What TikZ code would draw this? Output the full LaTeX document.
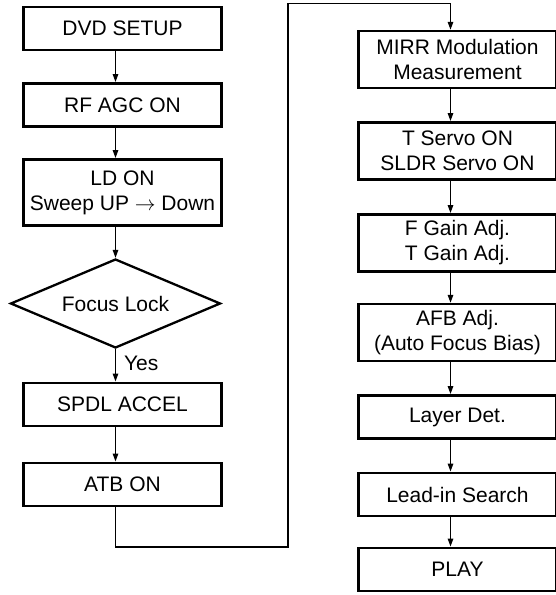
\documentclass[tikz,border=0pt]{standalone}
\usepackage{fontspec}
\setmainfont{Liberation Sans}
\usetikzlibrary{shapes.geometric, arrows.meta}
\tikzstyle{process} = [rectangle, minimum width=198.4pt, minimum height=43.3pt,
align=center, draw=black, line width=2.6pt, inner sep=2pt,
font=\fontsize{21}{25}\selectfont]
\tikzstyle{decision} = [diamond, aspect=2.36, minimum width=210pt, minimum height=89pt,
inner sep=0pt, draw=black, line width=2.3pt, font=\fontsize{21}{25}\selectfont]
\tikzstyle{arrow} = [line width=1.3pt,-{Triangle[length=8pt,width=5.5pt]}]

\begin{document}
\begin{tikzpicture}[x=1pt, y=-1pt]
\useasboundingbox (0,0) rectangle (555,595);

% Left column
\node[process] (dvd) at (122.5,28.5) {DVD SETUP};
\node[process] (rfagc) at (122.5,105) {RF AGC ON};
\node[process, minimum height=66.4pt] (ldon) at (122.5,192.5) {LD ON\\Sweep UP $\rightarrow$ Down};
\node[decision] (focus) at (115.5,303.5) {Focus Lock};
\node[process] (spdl) at (122.5,404.5) {SPDL ACCEL};
\node[process] (atb) at (122.5,484.5) {ATB ON};
\coordinate (jump) at (288,547);

% Right column
\node[process, minimum height=56.8pt] (mirr) at (457.5,59.5) {MIRR Modulation\\Measurement};
\node[process, minimum height=57.4pt] (servo) at (457.5,151) {T Servo ON\\SLDR Servo ON};
\node[process, minimum height=57.4pt] (gain) at (457.5,243) {F Gain Adj.\\T Gain Adj.};
\node[process, minimum height=56.8pt] (afb) at (457.5,332.5) {AFB Adj.\\(Auto Focus Bias)};
\node[process] (layer) at (457.5,417) {Layer Det.};
\node[process] (leadin) at (457.5,494.5) {Lead-in Search};
\node[process] (play) at (457.5,569.5) {PLAY};

% Arrows
\draw[arrow] ([xshift=-7pt]dvd.south) -- ([xshift=-7pt]rfagc.north);
\draw[arrow] ([xshift=-7pt]rfagc.south) -- ([xshift=-7pt]ldon.north);
\draw[arrow] ([xshift=-7pt]ldon.south) -- (focus.north);
\draw[arrow] (focus.south) -- node[right, pos=0.45, inner sep=8pt, font=\fontsize{21}{25}\selectfont] {Yes} ([xshift=-7pt]spdl.north);
\draw[arrow] ([xshift=-7pt]spdl.south) -- ([xshift=-7pt]atb.north);
\draw[arrow] ([xshift=-7pt]atb.south) |- (jump) |- ([xshift=-7pt, yshift=26pt]mirr.north) -- ([xshift=-7pt]mirr.north);
\draw[arrow] ([xshift=-7pt]mirr.south) -- ([xshift=-7pt]servo.north);
\draw[arrow] ([xshift=-7pt]servo.south) -- ([xshift=-7pt]gain.north);
\draw[arrow] ([xshift=-7pt]gain.south) -- ([xshift=-7pt]afb.north);
\draw[arrow] ([xshift=-7pt]afb.south) -- ([xshift=-7pt]layer.north);
\draw[arrow] ([xshift=-7pt]layer.south) -- ([xshift=-7pt]leadin.north);
\draw[arrow] ([xshift=-7pt]leadin.south) -- ([xshift=-7pt]play.north);

\end{tikzpicture}
\end{document}
